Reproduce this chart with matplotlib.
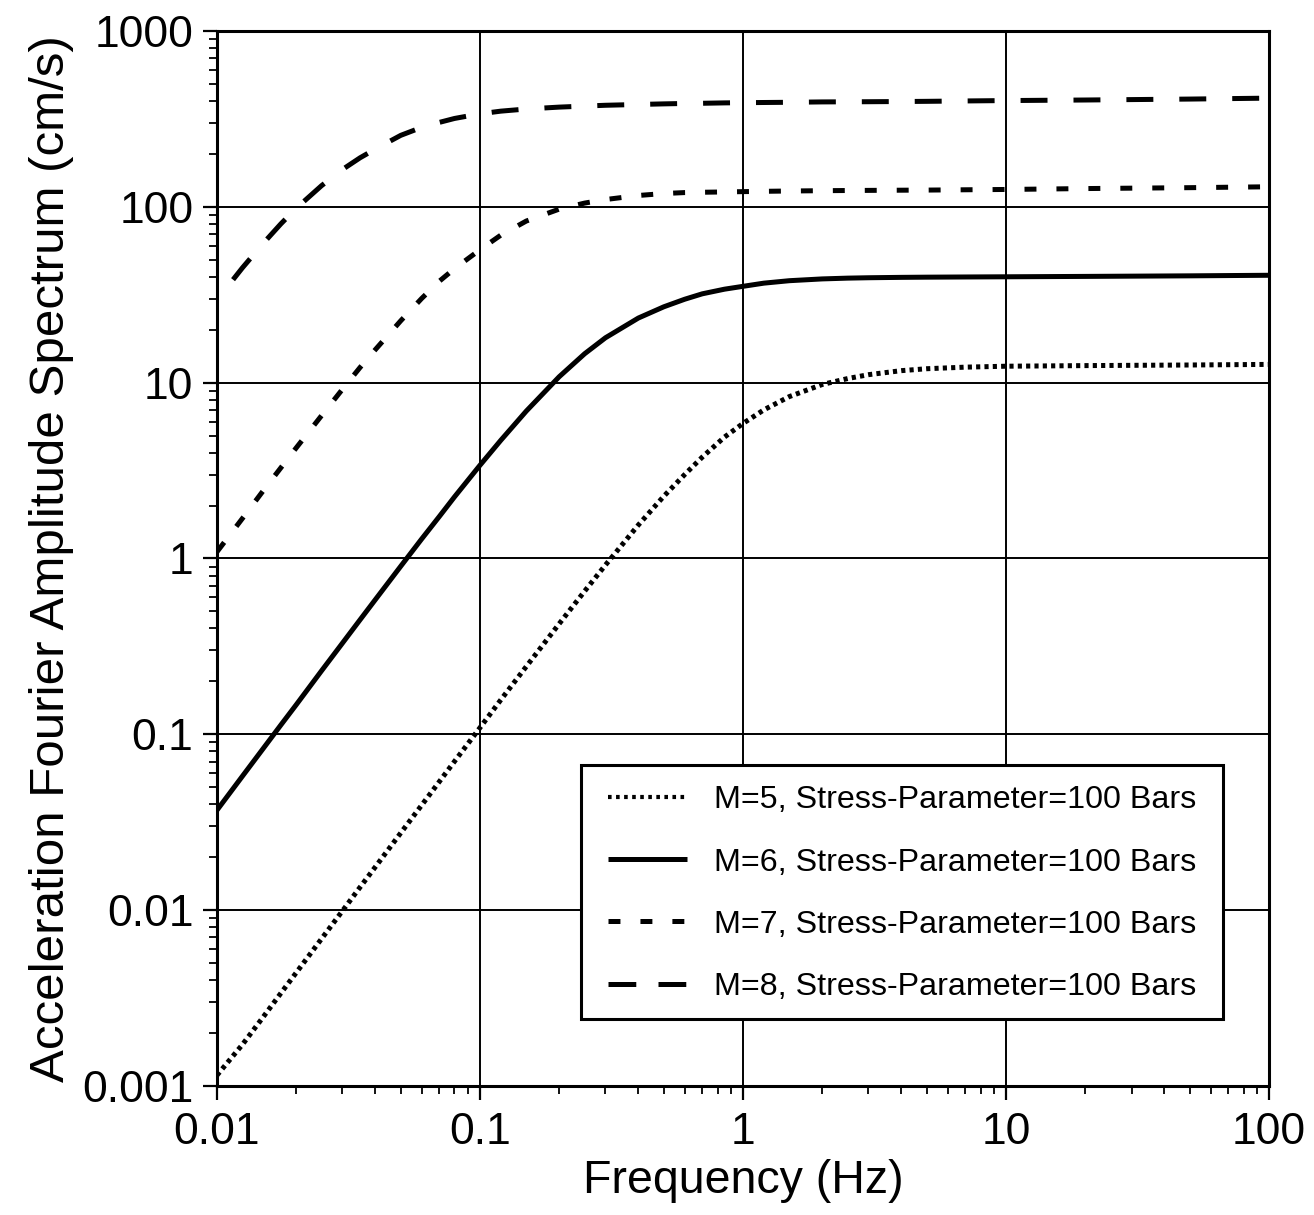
import matplotlib
matplotlib.use("Agg")
import matplotlib.pyplot as plt
from matplotlib.lines import Line2D
from matplotlib.patches import Rectangle
from matplotlib.ticker import FixedLocator, FixedFormatter, LogLocator, NullFormatter

# Frequencies (Hz) at which the spectra are tabulated
freq = [0.01, 0.0125, 0.015, 0.0175, 0.02, 0.025, 0.03, 0.035, 0.04, 0.05,
        0.06, 0.07, 0.08, 0.1, 0.12, 0.15, 0.2, 0.25, 0.3, 0.4,
        0.5, 0.6, 0.7, 0.85, 1, 1.2, 1.5, 2, 2.5, 3,
        4, 5, 7, 10, 20, 50, 100]

# Acceleration Fourier amplitude spectra (cm/s), stress parameter 100 bars
amp_m5 = [0.00115, 0.00172, 0.00247, 0.00337, 0.0044, 0.00688, 0.0099, 0.0135, 0.0176, 0.0275,
          0.0395, 0.0537, 0.0701, 0.109, 0.157, 0.243, 0.425, 0.652, 0.918, 1.55,
          2.26, 3.0, 3.77, 4.9, 5.86, 7.0, 8.33, 9.76, 10.55, 11.1,
          11.7, 12.0, 12.25, 12.4, 12.5, 12.6, 12.7]
amp_m6 = [0.037, 0.0578, 0.0831, 0.113, 0.147, 0.230, 0.330, 0.448, 0.583, 0.904,
          1.29, 1.73, 2.24, 3.39, 4.70, 6.89, 10.8, 14.6, 18.0, 23.3,
          27.0, 29.8, 32.0, 34.0, 35.3, 36.8, 38.0, 38.9, 39.3, 39.5,
          39.7, 39.8, 39.9, 40.0, 40.2, 40.5, 40.8]
amp_m7 = [1.09, 1.69, 2.43, 3.28, 4.25, 6.5, 9.17, 12.2, 15.4, 22.5,
          30.1, 37.7, 44.5, 57.0, 69.0, 83.0, 97.0, 105.0, 110.0, 116.0,
          119.0, 120.5, 121.0, 121.5, 122.0, 122.5, 123.0, 123.5, 123.8, 124.0,
          124.3, 124.5, 125.0, 125.5, 127.0, 128.5, 130.0]
amp_m8 = [29.5, 45.0, 62.0, 80.0, 98.0, 132.0, 163.0, 190.0, 213.0, 255.0,
          283.0, 302.0, 318.0, 338.0, 350.0, 360.0, 369.0, 374.0, 378.0, 382.0,
          385.0, 387.0, 388.0, 390.0, 391.0, 392.0, 393.0, 395.0, 395.5, 396.0,
          397.0, 398.0, 400.0, 402.0, 405.0, 410.0, 415.0]

labels = ["M=5, Stress-Parameter=100 Bars",
          "M=6, Stress-Parameter=100 Bars",
          "M=7, Stress-Parameter=100 Bars",
          "M=8, Stress-Parameter=100 Bars"]

x_ticks = [0.01, 0.1, 1, 10, 100]
x_ticklabels = ["0.01", "0.1", "1", "10", "100"]
y_ticks = [0.001, 0.01, 0.1, 1, 10, 100, 1000]
y_ticklabels = ["0.001", "0.01", "0.1", "1", "10", "100", "1000"]

plt.rcParams["font.family"] = ["Liberation Sans", "DejaVu Sans"]
plt.rcParams["lines.scale_dashes"] = False

fig = plt.figure(figsize=(13.14, 12.15), dpi=100)
ax = fig.add_axes([0.1651, 0.1062, 0.8007, 0.8683])

ax.set_xscale("log")
ax.set_yscale("log")
ax.set_xlim(0.01, 100)
ax.set_ylim(0.001, 1000)

lw = 3.6
style_m5 = (0, (3.0, 3.0))
style_m6 = "-"
style_m7 = (0, (8.6, 14.4))
style_m8 = (19.4, (19.4, 18.7))

ax.plot(freq, amp_m5, color="black", lw=lw, linestyle=style_m5, dash_capstyle="butt")
ax.plot(freq, amp_m6, color="black", lw=lw, linestyle=style_m6, solid_capstyle="butt")
ax.plot(freq, amp_m7, color="black", lw=lw, linestyle=style_m7, dash_capstyle="butt")
ax.plot(freq, amp_m8, color="black", lw=lw, linestyle=style_m8, dash_capstyle="butt")

# Decade grid and log minor ticks
ax.xaxis.set_major_locator(FixedLocator(x_ticks))
ax.xaxis.set_major_formatter(FixedFormatter(x_ticklabels))
ax.yaxis.set_major_locator(FixedLocator(y_ticks))
ax.yaxis.set_major_formatter(FixedFormatter(y_ticklabels))
ax.xaxis.set_minor_locator(LogLocator(base=10, subs=range(2, 10), numticks=20))
ax.yaxis.set_minor_locator(LogLocator(base=10, subs=range(2, 10), numticks=20))
ax.xaxis.set_minor_formatter(NullFormatter())
ax.yaxis.set_minor_formatter(NullFormatter())
ax.grid(True, which="major", color="black", lw=1.4)
ax.set_axisbelow(True)

for sp in ax.spines.values():
    sp.set_linewidth(2.2)
    sp.set_color("black")

ax.tick_params(which="major", direction="out", length=10, width=1.6,
               labelsize=32, pad=7, colors="black", top=False, right=False)
ax.tick_params(which="minor", direction="out", length=5.5, width=1.3,
               top=False, right=False)
ax.tick_params(axis="x", which="major", pad=9)

ax.set_xlabel("Frequency (Hz)", fontsize=33.5, labelpad=4)
ax.set_ylabel("Acceleration Fourier Amplitude Spectrum (cm/s)", fontsize=35.5, labelpad=6)

# Legend box (white, black border) with the entries placed inside it
frame = Rectangle((0.346, 0.0635), 0.6103, 0.2408, transform=ax.transAxes,
                  facecolor="white", edgecolor="black", lw=2.2, zorder=4)
ax.add_patch(frame)
handles = [
    Line2D([], [], color="black", lw=3.0, linestyle=(0, (2.6, 3.2)), dash_capstyle="butt"),
    Line2D([], [], color="black", lw=lw, linestyle=style_m6, solid_capstyle="butt"),
    Line2D([], [], color="black", lw=lw, linestyle=style_m7, dash_capstyle="butt"),
    Line2D([], [], color="black", lw=lw, linestyle=(0, (20.0, 16.0)), dash_capstyle="butt"),
]
leg = ax.legend(handles, labels, loc="upper left", bbox_to_anchor=(0.3717, 0.285),
                fontsize=23.2, frameon=False, handlelength=2.45, handletextpad=0.85,
                labelspacing=1.0, borderpad=0, borderaxespad=0)
leg.set_zorder(5)

fig.savefig("out.png", dpi=100, facecolor="white")
